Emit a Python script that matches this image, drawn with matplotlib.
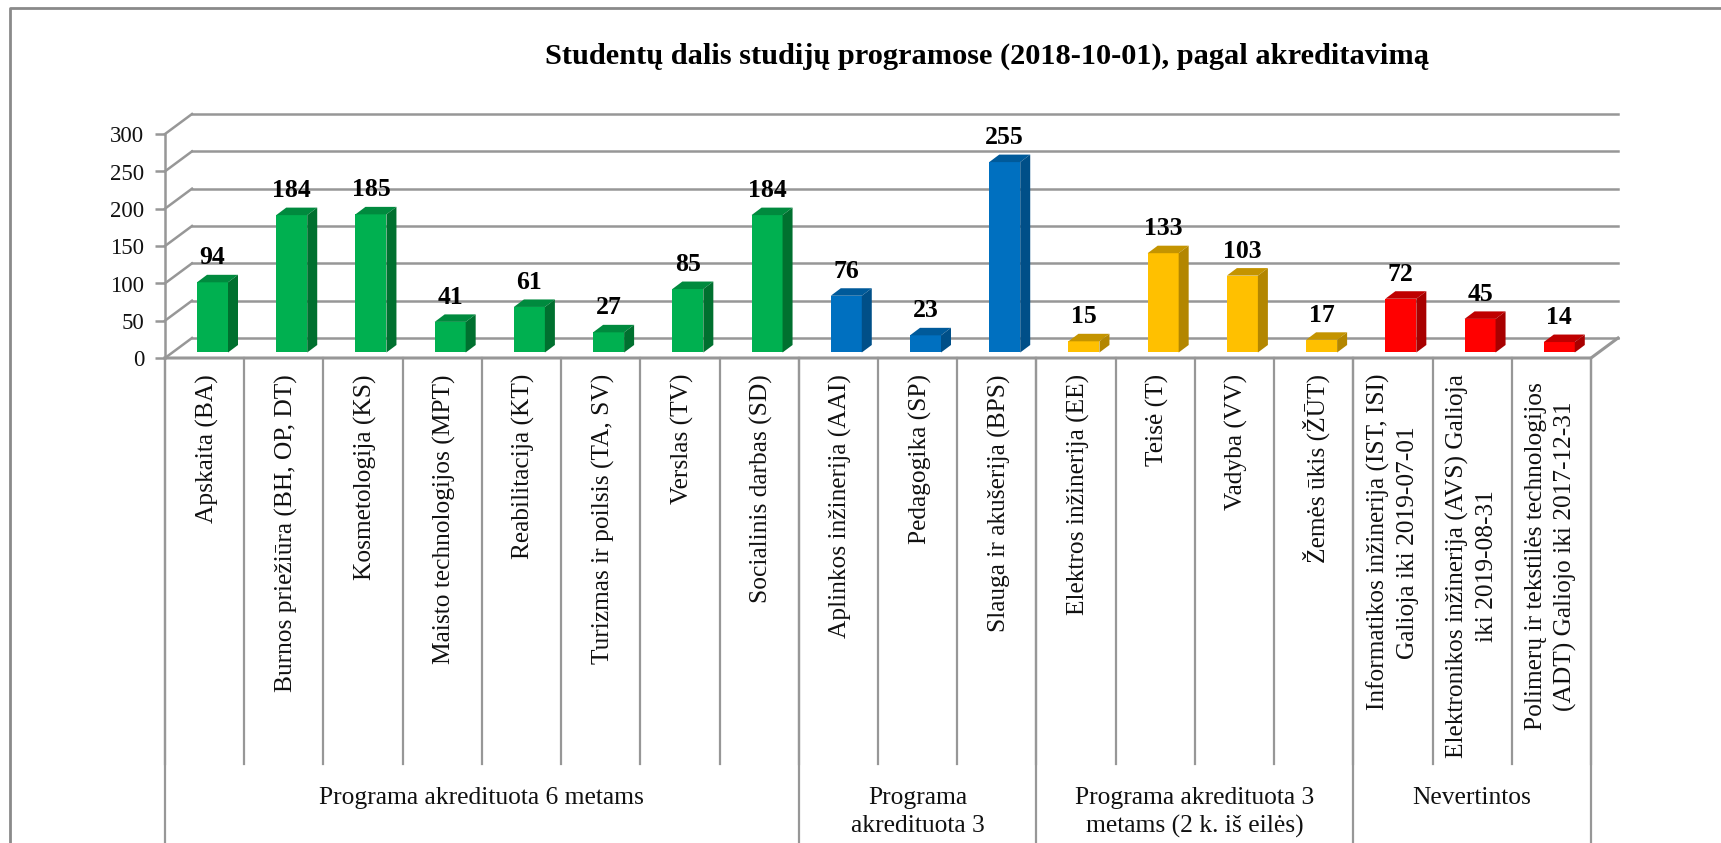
import matplotlib
matplotlib.use("Agg")
import matplotlib.pyplot as plt
from matplotlib.lines import Line2D
from matplotlib.patches import Polygon
from matplotlib.transforms import ScaledTranslation

plt.rcParams["font.family"] = ["Liberation Serif", "DejaVu Serif"]

# -------------------------------
# Data
# -------------------------------
categories = [
    "Apskaita (BA)",
    "Burnos priežiūra (BH, OP, DT)",
    "Kosmetologija (KS)",
    "Maisto technologijos (MPT)",
    "Reabilitacija (KT)",
    "Turizmas ir poilsis (TA, SV)",
    "Verslas (TV)",
    "Socialinis darbas (SD)",
    "Aplinkos inžinerija (AAI)",
    "Pedagogika (SP)",
    "Slauga ir akušerija (BPS)",
    "Elektros inžinerija (EE)",
    "Teisė (T)",
    "Vadyba (VV)",
    "Žemės ūkis (ŽŪT)",
    "Informatikos inžinerija (IST, ISI)\nGalioja iki 2019-07-01",
    "Elektronikos inžinerija (AVS) Galioja\niki 2019-08-31",
    "Polimerų ir tekstilės technologijos\n(ADT) Galiojo iki 2017-12-31",
]
values = [94, 184, 185, 41, 61, 27, 85, 184, 76, 23, 255, 15, 133, 103, 17, 72, 45, 14]

group_names = [
    "Programa akredituota 6 metams",
    "Programa\nakredituota 3",
    "Programa akredituota 3\nmetams (2 k. iš eilės)",
    "Nevertintos",
]
group_sizes = [8, 3, 4, 3]
yticks = [0, 50, 100, 150, 200, 250, 300]
title = "Studentų dalis studijų programose (2018-10-01), pagal akreditavimą"

# front, top, side
group_colors = [
    ("#00B050", "#008A3E", "#00702F"),
    ("#0070C0", "#005A9A", "#004F88"),
    ("#FFC000", "#C49400", "#B38600"),
    ("#FF0000", "#BF0000", "#A80000"),
]

# -------------------------------
# Figure and axes (pixel layout of the reference)
# -------------------------------
W, H = 1721, 843
GRAY = "#979797"
fig = plt.figure(figsize=(W / 100, H / 100), dpi=100, facecolor="white")
ax = fig.add_axes([165 / W, 1 - 358 / H, (1591 - 165) / W, (358 - 134) / H])
ax.set_xlim(0, 18)
ax.set_ylim(0, 300)
ax.patch.set_visible(False)

PX = 18 / (1591 - 165)  # one pixel in x units
PY = 300 / (358 - 134)  # one pixel in y units

wall_dx, wall_dy = 27 * PX, 20 * PY
bar_left, bar_w = 32 * PX, 31 * PX
bar_dx, bar_dy = 10 * PX, 7.5 * PY
lift = 5.5 * PY

# spines, ticks
for s in ["top", "right", "bottom"]:
    ax.spines[s].set_visible(False)
ax.spines["left"].set_color(GRAY)
ax.spines["left"].set_linewidth(1.8)
ax.set_xticks([])
ax.set_yticks(yticks)
ax.tick_params(axis="y", length=7, width=1.8, color=GRAY, pad=8, labelsize=16.5)
shift_down = ScaledTranslation(0, -3 / 100, fig.dpi_scale_trans)
for lab in ax.get_yticklabels():
    lab.set_color("#111111")
    lab.set_verticalalignment("center")
    lab.set_transform(lab.get_transform() + shift_down)

# -------------------------------
# Walls and grid
# -------------------------------
for t in yticks:
    ax.plot([0, wall_dx], [t, t + wall_dy], color=GRAY, lw=1.8, clip_on=False, zorder=1)
    ax.plot([wall_dx, 18 + wall_dx], [t + wall_dy, t + wall_dy], color=GRAY, lw=1.8,
            clip_on=False, zorder=1)
ax.plot([0, 18, 18 + wall_dx], [0, 0, wall_dy], color=GRAY, lw=2.2, clip_on=False, zorder=1)

# -------------------------------
# Bars
# -------------------------------
bar_colors = []
for size, cols in zip(group_sizes, group_colors):
    bar_colors += [cols] * size

for i, (val, cols) in enumerate(zip(values, bar_colors)):
    x0 = i + bar_left
    x1 = x0 + bar_w
    y0 = lift
    y1 = lift + val
    ax.bar(x0, val, width=bar_w, bottom=y0, align="edge", color=cols[0], zorder=3, clip_on=False)
    ax.add_patch(Polygon([(x0, y1), (x1, y1), (x1 + bar_dx, y1 + bar_dy), (x0 + bar_dx, y1 + bar_dy)],
                         closed=True, facecolor=cols[1], edgecolor="none", zorder=3, clip_on=False))
    ax.add_patch(Polygon([(x1, y0), (x1 + bar_dx, y0 + bar_dy), (x1 + bar_dx, y1 + bar_dy), (x1, y1)],
                         closed=True, facecolor=cols[2], edgecolor="none", zorder=3, clip_on=False))
    ax.text((x0 + x1) / 2, y1 + 18 * PY, str(val), ha="center", va="baseline", fontsize=18.5,
            fontweight="bold", color="black", zorder=5, clip_on=False)

# -------------------------------
# Multi level category axis
# -------------------------------
tick_bottom = -(764 - 358) * PY
axis_bottom = -(843 - 358) * PY
label_top = -(374 - 358) * PY

for i in range(19):
    ax.plot([i, i], [0, tick_bottom], color=GRAY, lw=1.6, clip_on=False, zorder=1)

for i, name in enumerate(categories):
    y = label_top
    if name.startswith("Polimer"):
        y = label_top - 8 * PY
    xoff = 0.5 if "\n" in name else 0.53
    ax.text(i + xoff, y, name, rotation=90, ha="center", va="top", multialignment="center",
            fontsize=18.3, color="#111111", linespacing=1.4, clip_on=False)

start = 0
for name, size in zip(group_names, group_sizes):
    ax.plot([start, start], [0, axis_bottom], color=GRAY, lw=1.6, clip_on=False, zorder=1)
    ax.text(start + size / 2, -(787 - 358) * PY, name, ha="center", va="top", fontsize=18.4,
            color="#111111", linespacing=1.34, clip_on=False)
    start += size
ax.plot([start, start], [0, axis_bottom], color=GRAY, lw=1.6, clip_on=False, zorder=1)

# -------------------------------
# Title and chart frame
# -------------------------------
fig.text(987 / W, 1 - 64 / H, title, ha="center", va="baseline", fontsize=21.9, fontweight="bold",
         color="black")
fig.add_artist(Line2D([10 / W, 10 / W, 1], [0, 1 - 8 / H, 1 - 8 / H], color="#8A8A8A", lw=2))

fig.savefig("out.png", dpi=100)
